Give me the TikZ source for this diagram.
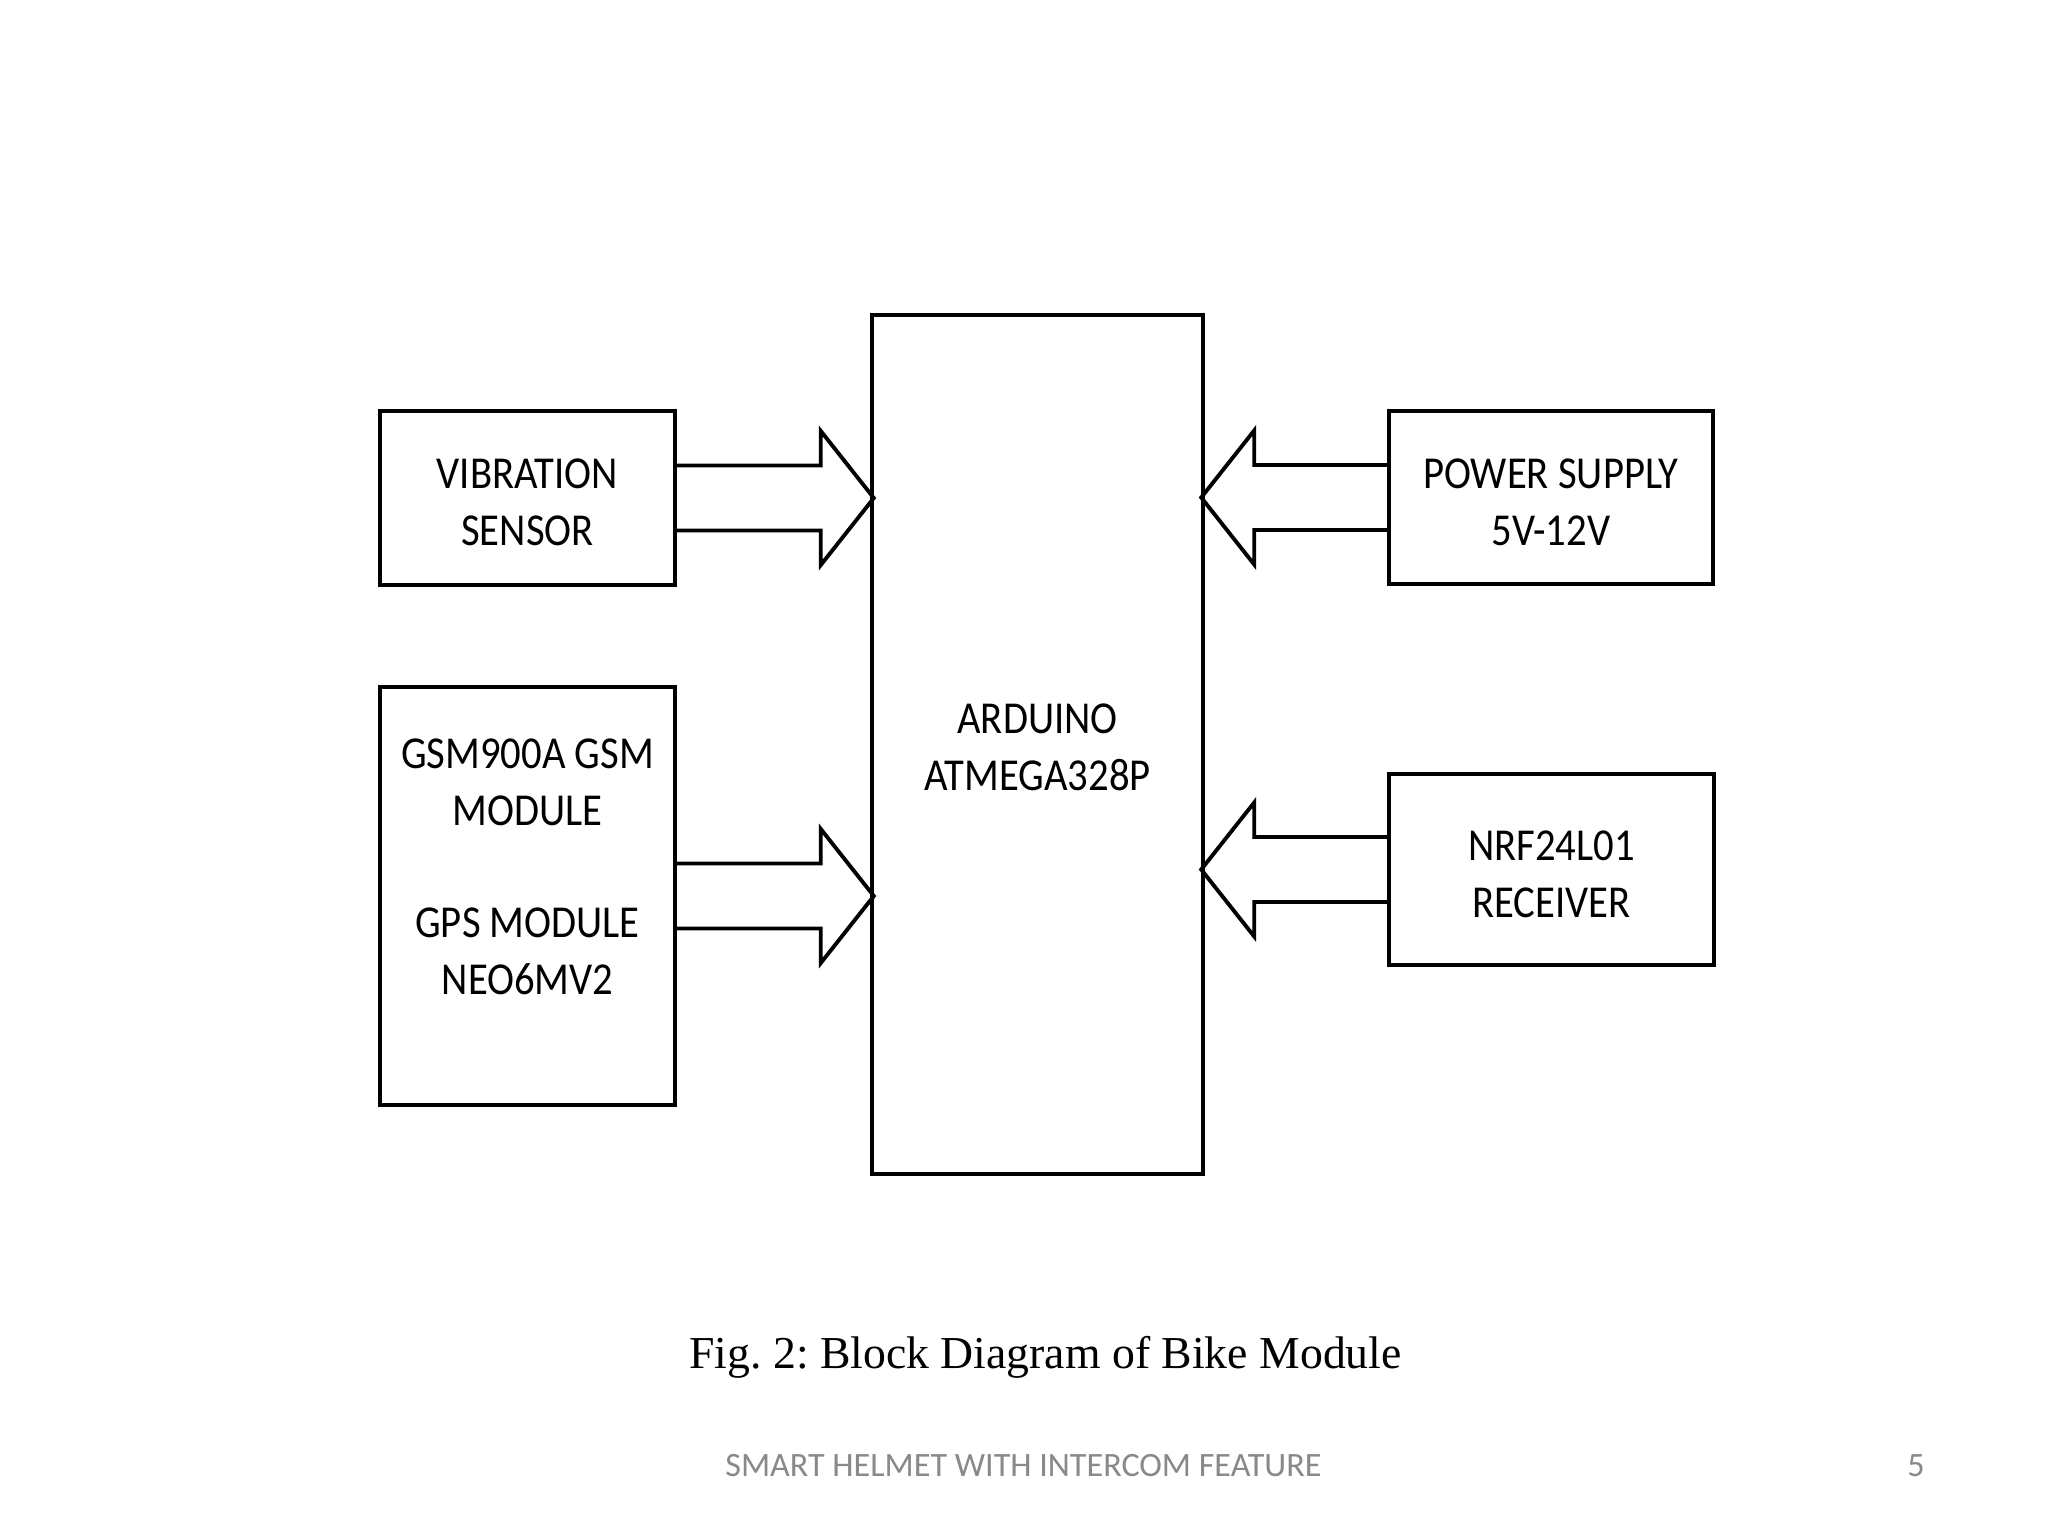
\documentclass[tikz,border=0pt]{standalone}
\usepackage{fontspec}
\usetikzlibrary{calc}
\newfontfamily\boxfont[FakeStretch=0.89]{Carlito}
\newfontfamily\footfont{Carlito}
\newfontfamily\capfont{Liberation Serif}
\definecolor{footgray}{HTML}{898989}
\frenchspacing
\tikzset{
  blk/.style={draw=black, line width=1.2pt, inner sep=0pt},
  blktxt/.style={inner sep=0pt, align=center,
    font=\boxfont\fontsize{13pt}{16.2pt}\selectfont},
  blockarr/.style={draw=black, line width=1.1pt, line join=miter},
  captxt/.style={inner sep=0pt, anchor=base, font=\capfont\fontsize{13pt}{15pt}\selectfont},
  foottxt/.style={inner sep=0pt, anchor=base, text=footgray, font=\footfont\fontsize{9.7pt}{11pt}\selectfont}
}
\newcommand\blkarrow[3]{%
  \draw[blockarr] ($(#1)+(0,-32.5)$) -- ($(#2)+(#3*53,-32.5)$) -- ($(#2)+(#3*53,-67)$)
    -- (#2) -- ($(#2)+(#3*53,67)$) -- ($(#2)+(#3*53,32.5)$) -- ($(#1)+(0,32.5)$);}
\begin{document}
\begin{tikzpicture}[x=0.01cm,y=-0.01cm]
\fill[white] (0,0) rectangle (2048,1536);
\useasboundingbox (0,0) rectangle (2048,1536);

\node[blk, minimum width=2.95cm, minimum height=1.74cm] (vib) at (527.5,498) {};
\node[blk, minimum width=2.95cm, minimum height=4.18cm] (gsm) at (527.5,896) {};
\node[blk, minimum width=3.31cm, minimum height=8.59cm] (ard) at (1037.5,744.5) {};
\node[blk, minimum width=3.24cm, minimum height=1.73cm] (pow) at (1551,497.5) {};
\node[blk, minimum width=3.25cm, minimum height=1.91cm] (nrf) at (1551.5,869.5) {};

\node[blktxt] (vibtext) at ($(vib.center)+(0,4)$) {VIBRATION\\SENSOR};
\node[blktxt] (gsmtext) at ($(gsm.center)+(0,-29)$) {GSM900A GSM\\MODULE\\[15.7pt]GPS MODULE\\NEO6MV2};
\node[blktxt] (ardtext) at ($(ard.center)+(0,3)$) {ARDUINO\\ATMEGA328P};
\node[blktxt] (powtext) at ($(pow.center)+(0,5)$) {POWER SUPPLY\\5V-12V};
\node[blktxt] (nrftext) at ($(nrf.center)+(0,5)$) {NRF24L01\\RECEIVER};

\coordinate (t1) at ($(ard.west |- vib.east)+(4,0)$);
\coordinate (t2) at ($(ard.west |- gsm.east)+(4,0)$);
\coordinate (t3) at ($(ard.east |- pow.west)+(-4,0)$);
\coordinate (t4) at ($(ard.east |- nrf.west)+(-4,0)$);

\blkarrow{vib.east}{t1}{-1}
\blkarrow{gsm.east}{t2}{-1}
\blkarrow{pow.west}{t3}{1}
\blkarrow{nrf.west}{t4}{1}

\node[captxt] (cap) at (1045.5,1368) {Fig. 2: Block Diagram of Bike Module};
\node[foottxt] (foot) at (1023.5,1476) {SMART HELMET WITH INTERCOM FEATURE};
\node[foottxt] (pg) at (1916,1476) {5};
\end{tikzpicture}
\end{document}
